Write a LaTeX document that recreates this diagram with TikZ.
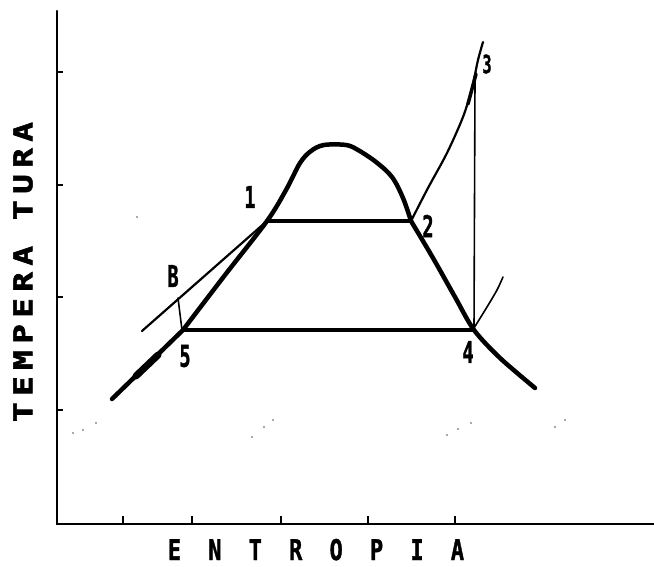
\documentclass[tikz,border=0pt]{standalone}
\usepackage{fontspec}
\newfontfamily\lblfont{DejaVu Sans Mono}[FakeBold=1.5]
\newfontfamily\entfont{DejaVu Sans Mono}[LetterSpace=124,FakeBold=1.5]
\newfontfamily\tempfont{DejaVu Sans Mono}[LetterSpace=20,FakeBold=2]
\begin{document}
\begin{tikzpicture}[x=1pt,y=-1pt,
  axisline/.style={line width=2.4pt,line cap=round},
  tickline/.style={line width=2pt},
  domeline/.style={line width=4.5pt,line cap=round,line join=round},
  isoline/.style={line width=3.2pt,line cap=round},
  thinline/.style={line width=2.2pt,line cap=round,line join=round},
  hairline/.style={line width=1.6pt,line cap=round},
  lbl/.style={font=\lblfont\bfseries\fontsize{30}{30}\selectfont,xscale=0.62,inner sep=0pt},
  noise/.style={fill=black!45,draw=none}]
\useasboundingbox (0,0) rectangle (654,567);
\fill[white] (0,0) rectangle (654,567);
% axes
\coordinate (O) at (57,524);
\coordinate (ytop) at (57,11);
\coordinate (xend) at (654,524);
\draw[axisline] (ytop) -- (O) -- (xend);
\foreach \yy in {72,185,297,410} \draw[tickline] (57,\yy) -- (63,\yy);
\foreach \xx in {123,192,281,368,455} \draw[tickline] (\xx,524) -- (\xx,516);
% axis titles
\node[font=\entfont\bfseries\fontsize{28.5}{28.5}\selectfont,xscale=0.77,inner sep=0pt,anchor=base] (xlab) at (316,560) {ENTROPIA};
\node[font=\tempfont\bfseries\fontsize{26}{26}\selectfont,rotate=90,xscale=1.25,inner sep=0pt] (ylab) at (23,272) {TEMPERA TURA};
% state points
\coordinate (p1) at (267,221);
\coordinate (p2) at (411,221);
\coordinate (p4) at (474,330);
\coordinate (p5) at (183,330);
\coordinate (p3) at (483,42);
\coordinate (pB) at (178,298);
\coordinate (pBb) at (182,330);
\coordinate (d0) at (112,399);
\coordinate (bstart) at (142,331);
\coordinate (vtop) at (475,80);
\coordinate (tail) at (503,277);
% saturation dome
\draw[domeline] (d0) -- (p5);
\draw[line width=7pt,line cap=round] (136,376) -- (158,355);
\draw[domeline] plot[smooth,tension=0.55] coordinates {(183,330) (225,275) (267,221) (286,190) (300,163) (311,151) (324,145) (346,145) (358,150) (376,162) (392,177) (403,198) (411,221)};
\draw[domeline] plot[smooth,tension=0.5] coordinates {(411,221) (433,258) (455,297) (474,330) (500,358) (535,388)};
% horizontal isobars
\draw[isoline] (p1) -- (p2);
\draw[isoline] (p5) -- (p4);
% other process lines
\draw[thinline] (bstart) -- (p1);
\draw[hairline] (pB) -- (pBb);
\draw[thinline] plot[smooth,tension=0.5] coordinates {(411,221) (428,188) (447,153) (463,117) (472,88) (478,60) (483,42)};
\draw[line width=3.5pt,line cap=round] (468,104) -- (476,74);
\draw[hairline] (vtop) -- (p4);
\draw[hairline] plot[smooth,tension=0.5] coordinates {(474,328) (487,307) (497,290) (503,277)};
% labels
\node[lbl] (l1) at (250,197) {1};
\node[lbl] (l2) at (428,226) {2};
\node[lbl,font=\lblfont\bfseries\fontsize{25}{25}\selectfont] (l3) at (487,64) {3};
\node[lbl] (l4) at (468,352) {4};
\node[lbl] (l5) at (185,356) {5};
\node[lbl] (lB) at (173,276) {B};
% faint specks
\foreach \px/\py in {73/433,83/430,96/423,252/437,264/427,273/420,447/435,458/429,471/423,555/427,565/420,137/217}
  \fill[noise] (\px,\py) circle (1.1);
\end{tikzpicture}
\end{document}
